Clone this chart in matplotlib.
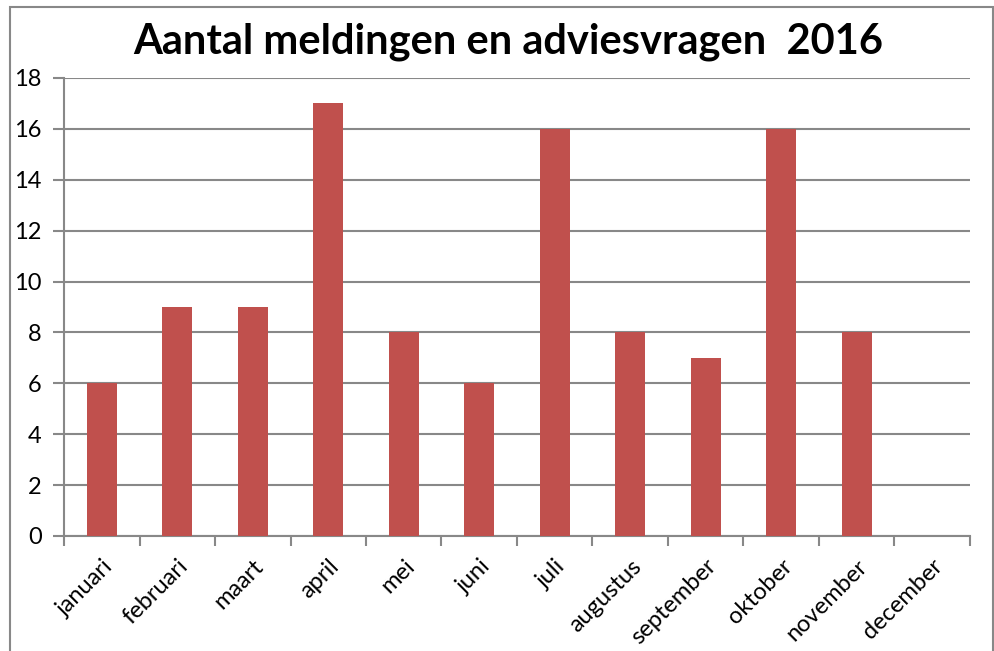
import matplotlib
matplotlib.use("Agg")
import matplotlib.pyplot as plt
from matplotlib.patches import Rectangle

months = ["januari", "februari", "maart", "april", "mei", "juni", "juli",
          "augustus", "september", "oktober", "november", "december"]
values = [6, 9, 9, 17, 8, 6, 16, 8, 7, 16, 8, 0]
yticks = [0, 2, 4, 6, 8, 10, 12, 14, 16, 18]

plt.rcParams['font.family'] = ['Lato', 'DejaVu Sans']

fig = plt.figure(figsize=(9.95, 6.51), dpi=100)
fig.patches.append(Rectangle((10/995, -0.1), (993-10)/995, (651-7)/651 + 0.1,
                             transform=fig.transFigure, fill=False,
                             edgecolor='#888888', linewidth=1.5))
ax = fig.add_axes([64/995, (651-536)/651, (970-64)/995, (536-78)/651])

x = list(range(len(months)))
ax.bar(x, values, width=0.4, color='#C0504D', zorder=3)
ax.set_xlim(-0.5, 11.5)
ax.set_ylim(0, 18)
ax.set_yticks(yticks)
ax.set_yticklabels([str(v) for v in yticks], fontsize=17)
ax.set_xticks([i - 0.5 for i in range(13)], minor=False)
ax.set_xticklabels([])
ax.set_xticks(x, minor=True)
ax.set_xticklabels(months, minor=True, rotation=45, ha='right',
                   rotation_mode='anchor', fontsize=17)
ax.tick_params(axis='x', which='minor', length=0, pad=14)
ax.tick_params(axis='x', which='major', length=7, width=1.5, color='#888888')
ax.tick_params(axis='y', length=8, width=1.5, color='#888888', pad=8)
ax.grid(axis='y', color='#888888', linewidth=1.5, zorder=0)
for s in ['top', 'right']:
    ax.spines[s].set_visible(False)
for s in ['left', 'bottom']:
    ax.spines[s].set_color('#888888')
    ax.spines[s].set_linewidth(1.5)

fig.text(508/995, 1 - 42/651, "Aantal meldingen en adviesvragen  2016",
         ha='center', va='center', fontsize=30, fontweight='bold')

fig.savefig("out.png", dpi=100)
